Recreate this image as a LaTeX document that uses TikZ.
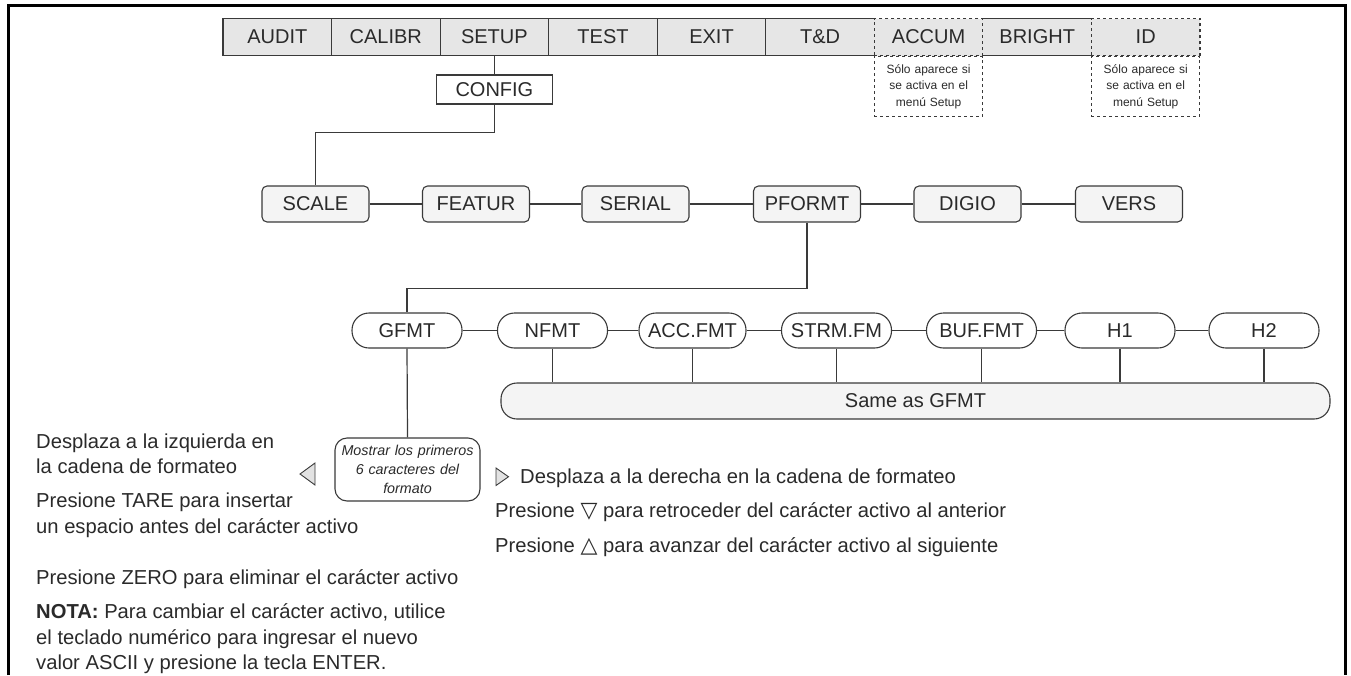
\documentclass[tikz,border=0pt]{standalone}
\usepackage{fontspec}
\setmainfont{Liberation Sans}
\newfontfamily\symfont{DejaVu Sans}
\definecolor{linec}{HTML}{3A3A3A}
\definecolor{menufill}{HTML}{E6E6E6}
\definecolor{rfill}{HTML}{F4F4F4}
\definecolor{txtc}{HTML}{2A2A2A}
\definecolor{trifill}{HTML}{E2E2E2}
\newcommand\lblfont{\fontsize{20}{24}\selectfont}
\newcommand\bodyfont{\fontsize{20.2}{25.5}\selectfont}
\tikzset{
  menubox/.style={draw=linec, fill=menufill, line width=1.1pt, minimum width=108.56pt, minimum height=37pt, inner sep=0pt, font=\lblfont, text=txtc},
  notebox/.style={draw=linec, dashed, line width=1pt, minimum width=108.56pt, minimum height=60pt, text width=106pt, align=center, inner sep=0pt, font=\fontsize{12}{16.5}\selectfont, text=txtc},
  rowtwo/.style={draw=linec, fill=rfill, line width=1.1pt, rounded corners=5pt, minimum width=107pt, minimum height=36pt, inner sep=0pt, font=\lblfont, text=txtc},
  rowthree/.style={draw=linec, fill=white, line width=1.1pt, rounded corners=17pt, minimum width=110pt, minimum height=35pt, inner sep=0pt, font=\lblfont, text=txtc},
  conn/.style={draw=linec, line width=1.2pt},
  tri/.style={draw=linec, fill=trifill, line width=0.9pt, line join=miter},
  bodytxt/.style={anchor=base west, inner sep=0pt, font=\bodyfont, text=txtc},
}
\begin{document}
\begin{tikzpicture}[x=1pt,y=-1pt]
\useasboundingbox (0,0) rectangle (1351,675);
% frame
\draw[line width=3pt, black] (8,675) -- (8,5.5) -- (1345.5,5.5) -- (1345.5,675);
% top menu
\node[menubox] (audit) at (277.3,37) {AUDIT};
\node[menubox] (calibr) at (385.8,37) {CALIBR};
\node[menubox] (setup) at (494.4,37) {SETUP};
\node[menubox] (test) at (603.0,37) {TEST};
\node[menubox] (exit) at (711.5,37) {EXIT};
\node[menubox] (td) at (820.1,37) {T\&D};
\node[menubox] (bright) at (1037.2,37) {BRIGHT};
\node[menubox, dashed] (accum) at (928.6,37) {ACCUM};
\node[menubox, dashed] (id) at (1145.7,37) {ID};
\node[notebox, anchor=north] (accnote) at (accum.south) {Sólo aparece si\\se activa en el\\menú Setup};
\node[notebox, anchor=north] (idnote) at (id.south) {Sólo aparece si\\se activa en el\\menú Setup};
% config
\node[menubox, fill=white, minimum width=116pt, minimum height=29pt] (config) at (494.4,89.5) {CONFIG};
\draw[conn] (setup) -- (config);
% row two
\node[rowtwo] (scale) at (315.5,204) {SCALE};
\node[rowtwo] (featur) at (476,204) {FEATUR};
\node[rowtwo] (serial) at (635.5,204) {SERIAL};
\node[rowtwo] (pformt) at (807,204) {PFORMT};
\node[rowtwo] (digio) at (967.5,204) {DIGIO};
\node[rowtwo] (vers) at (1129,204) {VERS};
\draw[conn] (config.south) -- ++(0,28) -| (scale.north);
\draw[conn] (scale) -- (featur);
\draw[conn] (featur) -- (serial);
\draw[conn] (serial) -- (pformt);
\draw[conn] (pformt) -- (digio);
\draw[conn] (digio) -- (vers);
% row three
\node[rowthree] (gfmt) at (407,330.5) {GFMT};
\node[rowthree] (nfmt) at (552.5,330.5) {NFMT};
\node[rowthree, minimum width=107pt] (accfmt) at (692.5,330.5) {ACC.FMT};
\node[rowthree] (strmfm) at (836.5,330.5) {STRM.FM};
\node[rowthree] (buffmt) at (981.5,330.5) {BUF.FMT};
\node[rowthree] (hone) at (1120,330.5) {H1};
\node[rowthree] (htwo) at (1264,330.5) {H2};
\draw[conn] (pformt.south) -- ++(0,66) -| (gfmt.north);
\draw[conn] (gfmt) -- (nfmt);
\draw[conn] (nfmt) -- (accfmt);
\draw[conn] (accfmt) -- (strmfm);
\draw[conn] (strmfm) -- (buffmt);
\draw[conn] (buffmt) -- (hone);
\draw[conn] (hone) -- (htwo);
% same as box
\node[draw=linec, fill=rfill, line width=1.1pt, rounded corners=16pt, minimum width=829pt, minimum height=36pt, inner sep=0pt, font=\lblfont, text=txtc] (same) at (915.5,401) {Same as GFMT};
\foreach \n in {nfmt,accfmt,strmfm,buffmt,hone,htwo}
  \draw[conn] (\n.south) -- (\n.south |- same.north);
% italic box
\node[draw=linec, fill=white, line width=1.1pt, rounded corners=12pt, minimum width=145pt, minimum height=63pt, text width=143pt, inner sep=0pt, align=center, font=\fontsize{14.3}{19}\selectfont\itshape, text=txtc] (ital) at (407.5,469.5) {Mostrar los primeros\\6 caracteres del\\formato};
\draw[conn] (gfmt.south) -- (ital.north);
% triangles
\draw[tri] (315,463) -- (315,485) -- (300,474) -- cycle;
\draw[tri] (496,468) -- (496,485.5) -- (508.5,476.75) -- cycle;
% left texts
\node[bodytxt] (lta) at (36,448) {Desplaza a la izquierda en};
\node[bodytxt] (ltb) at (36,473) {la cadena de formateo};
\node[bodytxt] (ltc) at (36,507) {Presione TARE para insertar};
\node[bodytxt] (ltd) at (36,533) {un espacio antes del carácter activo};
\node[bodytxt] (lte) at (36,584) {Presione ZERO para eliminar el carácter activo};
\node[bodytxt] (ltf) at (36,618) {\textbf{NOTA:} Para cambiar el carácter activo, utilice};
\node[bodytxt] (ltg) at (36,644) {el teclado numérico para ingresar el nuevo};
\node[bodytxt] (lth) at (36,669) {valor ASCII y presione la tecla ENTER.};
% right texts
\node[bodytxt] (rta) at (520,483) {Desplaza a la derecha en la cadena de formateo};
\node[bodytxt] (rtb) at (495,517) {Presione {\symfont\fontsize{22}{22}\selectfont ▽} para retroceder del carácter activo al anterior};
\node[bodytxt] (rtc) at (495,552) {Presione {\symfont\fontsize{22}{22}\selectfont △} para avanzar del carácter activo al siguiente};
\end{tikzpicture}
\end{document}
